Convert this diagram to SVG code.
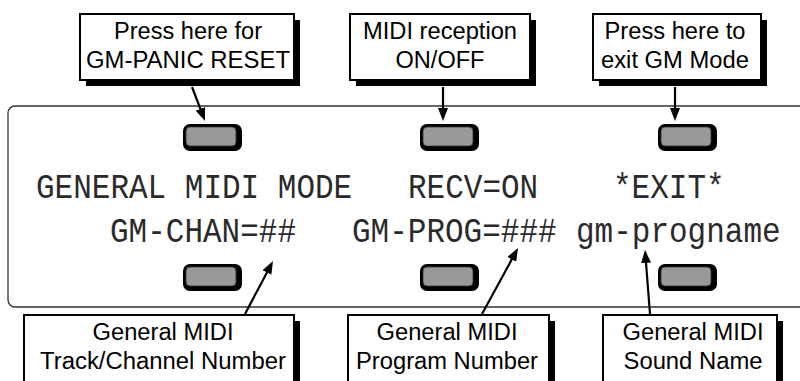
<svg xmlns="http://www.w3.org/2000/svg" width="800" height="381" viewBox="0 0 800 381">
<style>
.box{fill:#fff;stroke:#000;stroke-width:2}
.sh{fill:#000}
.lbl{font-family:"Liberation Sans",Arial,sans-serif;font-size:23.5px;fill:#000;text-anchor:middle}
.lcd{font-family:"Liberation Mono","DejaVu Sans Mono",monospace;font-size:31px;fill:#2a2a2a}
.btnO{fill:#000}
.btnI{fill:#999;stroke:#333;stroke-width:0.8}
.arr{stroke:#000;stroke-width:2.2;fill:none;marker-end:url(#ah)}
</style>
<defs>
<marker id="ah" markerUnits="userSpaceOnUse" markerWidth="14" markerHeight="10" refX="4" refY="5" orient="auto">
<path d="M0,0 L13,5 L0,10 z" fill="#000"/>
</marker>
</defs>
<rect width="800" height="381" fill="#fff"/>
<g id="panel">
<rect x="8" y="106" width="850" height="201" rx="7" fill="none" stroke="#333" stroke-width="1.3"/>
</g>
<g id="display">
<text class="lcd" transform="translate(36,198) scale(1,1.12)">GENERAL MIDI MODE</text>
<text class="lcd" transform="translate(408,198) scale(1,1.12)">RECV=ON</text>
<text class="lcd" transform="translate(613,198) scale(1,1.12)">*EXIT*</text>
<text class="lcd" transform="translate(110,242) scale(1,1.12)">GM-CHAN=##</text>
<text class="lcd" transform="translate(352,242) scale(1,1.12)">GM-PROG=###</text>
<text class="lcd" transform="translate(576,242) scale(1,1.12)">gm-progname</text>
</g>
<g id="btn-top-1"><rect class="btnO" x="183" y="124" width="59" height="27" rx="7"/><rect class="btnI" x="186" y="127" width="50" height="19" rx="4"/></g>
<g id="btn-top-2"><rect class="btnO" x="420" y="124" width="59" height="27" rx="7"/><rect class="btnI" x="423" y="127" width="50" height="19" rx="4"/></g>
<g id="btn-top-3"><rect class="btnO" x="658" y="124" width="59" height="27" rx="7"/><rect class="btnI" x="661" y="127" width="50" height="19" rx="4"/></g>
<g id="btn-bot-1"><rect class="btnO" x="183" y="264" width="59" height="27" rx="7"/><rect class="btnI" x="186" y="267" width="50" height="19" rx="4"/></g>
<g id="btn-bot-2"><rect class="btnO" x="420" y="264" width="59" height="27" rx="7"/><rect class="btnI" x="423" y="267" width="50" height="19" rx="4"/></g>
<g id="btn-bot-3"><rect class="btnO" x="658" y="264" width="59" height="27" rx="7"/><rect class="btnI" x="661" y="267" width="50" height="19" rx="4"/></g>
<g id="callout-panic">
<rect class="sh" x="86" y="20" width="214" height="66"/>
<rect class="box" x="80" y="14" width="214" height="66"/>
<text class="lbl" x="188" y="39" textLength="148" lengthAdjust="spacingAndGlyphs">Press here for</text>
<text class="lbl" x="188" y="68" textLength="204" lengthAdjust="spacingAndGlyphs">GM-PANIC RESET</text>
</g>
<g id="callout-recv">
<rect class="sh" x="356" y="20" width="180" height="66"/>
<rect class="box" x="350" y="14" width="180" height="66"/>
<text class="lbl" x="440" y="39" textLength="154" lengthAdjust="spacingAndGlyphs">MIDI reception</text>
<text class="lbl" x="440" y="68" textLength="89" lengthAdjust="spacingAndGlyphs">ON/OFF</text>
</g>
<g id="callout-exit">
<rect class="sh" x="599" y="20" width="168" height="66"/>
<rect class="box" x="593" y="14" width="168" height="66"/>
<text class="lbl" x="675" y="39" textLength="141" lengthAdjust="spacingAndGlyphs">Press here to</text>
<text class="lbl" x="675" y="68" textLength="148" lengthAdjust="spacingAndGlyphs">exit GM Mode</text>
</g>
<g id="callout-chan">
<rect class="sh" x="30" y="321" width="270" height="80"/>
<rect class="box" x="24" y="315" width="270" height="80"/>
<text class="lbl" x="163" y="340" textLength="141" lengthAdjust="spacingAndGlyphs">General MIDI</text>
<text class="lbl" x="163" y="369" textLength="246" lengthAdjust="spacingAndGlyphs">Track/Channel Number</text>
</g>
<g id="callout-prog">
<rect class="sh" x="354" y="321" width="201" height="80"/>
<rect class="box" x="348" y="315" width="201" height="80"/>
<text class="lbl" x="447" y="340" textLength="141" lengthAdjust="spacingAndGlyphs">General MIDI</text>
<text class="lbl" x="447" y="369" textLength="182" lengthAdjust="spacingAndGlyphs">Program Number</text>
</g>
<g id="callout-name">
<rect class="sh" x="609" y="321" width="174" height="80"/>
<rect class="box" x="603" y="315" width="174" height="80"/>
<text class="lbl" x="693" y="340" textLength="141" lengthAdjust="spacingAndGlyphs">General MIDI</text>
<text class="lbl" x="693" y="369" textLength="139" lengthAdjust="spacingAndGlyphs">Sound Name</text>
</g>
<g id="connectors">
<line class="arr" x1="192" y1="87" x2="201.8" y2="112.6"/>
<line class="arr" x1="443" y1="87" x2="443" y2="112"/>
<line class="arr" x1="675" y1="87" x2="675" y2="112"/>
<line class="arr" x1="245" y1="314" x2="268.8" y2="269"/>
<line class="arr" x1="482" y1="314" x2="513.7" y2="255.9"/>
<line class="arr" x1="650" y1="314" x2="645.7" y2="259"/>
</g>
</svg>
